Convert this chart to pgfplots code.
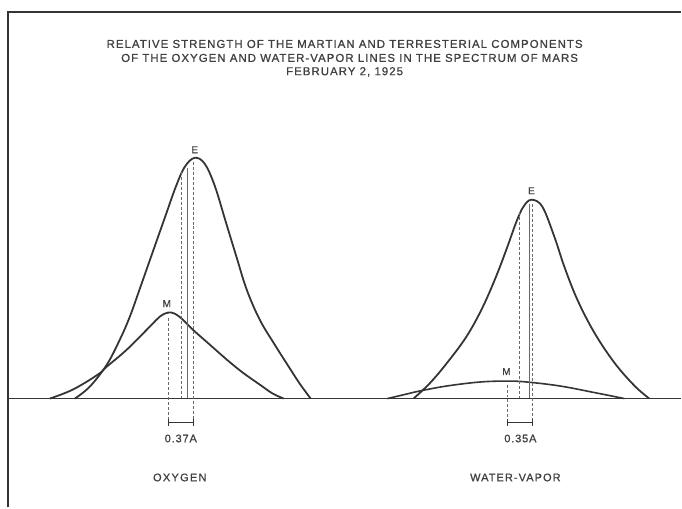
\documentclass[border=0pt]{standalone}
\usepackage{pgfplots}
\pgfplotsset{compat=1.18}
\usepackage{fontspec}
\setmainfont{Liberation Sans}
\newfontfamily\letterfont{Liberation Sans}[FakeBold=0.9]
\definecolor{ink}{HTML}{353535}
\definecolor{txt}{HTML}{404040}
\definecolor{dashgray}{HTML}{6A6A6A}
\begin{document}
\begin{tikzpicture}
\begin{axis}[
  width=682bp, height=508bp, scale only axis,
  xmin=0, xmax=682, ymin=0, ymax=508, y dir=reverse,
  hide axis, clip=false,
]
% frame and baseline
\addplot[ink, line width=1.6bp] coordinates {(8,508) (8,12) (682,12)};
\addplot[ink, line width=1.6bp] coordinates {(8,399) (682,399)};
% oxygen
\addplot[ink, line width=1.8bp, smooth, tension=0.6] coordinates {
(75,399) (90,387) (107,365) (120,340) (130,317) (140,289) (153,252) (165,218) (176,187) (185,167) (195,158)
(205,164) (215,186) (226,222) (237,258) (247,290) (260,320) (275,345) (289,367) (300,384) (311,399)};
\addplot[ink, line width=1.8bp, smooth, tension=0.6] coordinates {
(50,399) (73,390) (98,375) (107,367) (127,350) (150,327) (160,317) (168,313) (175,314) (183,320) (193,330)
(210,345) (227,360) (243,373) (260,385) (273,394) (284,399)};
% water vapor
\addplot[ink, line width=1.8bp, smooth, tension=0.6] coordinates {
(414,399) (430,384) (447,364) (467,337) (483,308) (497,276) (508,247) (517,222) (524,207) (532,200)
(543,207) (555,237) (565,267) (578,300) (595,333) (615,363) (635,386) (650,399)};
\addplot[ink, line width=1.6bp, smooth, tension=0.6] coordinates {
(388,399) (405,395) (420,391.5) (447,386.5) (480,382.5) (508,381.5) (528,382.5) (561,386.5) (595,393) (625,399)};
% construction lines, oxygen
\addplot[dashgray, densely dashed, line width=0.6bp] coordinates {(168,318) (168,426)};
\addplot[dashgray, densely dashed, line width=0.6bp] coordinates {(181.5,172) (181.5,398)};
\addplot[dashgray, line width=0.5bp] coordinates {(187,168) (187,398)};
\addplot[dashgray, densely dashed, line width=0.6bp] coordinates {(193.5,162) (193.5,426)};
\addplot[ink, line width=0.7bp, |-|] coordinates {(168,423) (193.5,423)};
% construction lines, water vapor
\addplot[dashgray, densely dashed, line width=0.6bp] coordinates {(508,385) (508,426)};
\addplot[dashgray, densely dashed, line width=0.6bp] coordinates {(520,212) (520,398)};
\addplot[dashgray, line width=0.5bp] coordinates {(530,204) (530,398)};
\addplot[dashgray, densely dashed, line width=0.6bp] coordinates {(533,204) (533,426)};
\addplot[ink, line width=0.7bp, |-|] coordinates {(508,423) (533,423)};
% texts
\node[txt, font=\letterfont\fontsize{10}{12}\selectfont] at (axis cs:195,150) {E};
\node[txt, font=\letterfont\fontsize{10}{12}\selectfont] at (axis cs:532,191) {E};
\node[txt, font=\letterfont\fontsize{10}{12}\selectfont] at (axis cs:167,304) {M};
\node[txt, font=\letterfont\fontsize{10}{12}\selectfont] at (axis cs:507,372) {M};
\node[txt, font=\letterfont\addfontfeature{LetterSpace=8}\fontsize{11}{13}\selectfont] at (axis cs:181,439) {0.37A};
\node[txt, font=\letterfont\addfontfeature{LetterSpace=8}\fontsize{11}{13}\selectfont] at (axis cs:521,439) {0.35A};
\node[txt, font=\letterfont\addfontfeature{LetterSpace=12}\fontsize{11}{13}\selectfont] at (axis cs:180,478) {OXYGEN};
\node[txt, font=\letterfont\addfontfeature{LetterSpace=10}\fontsize{11}{13}\selectfont] at (axis cs:516,478) {WATER-VAPOR};
\node[txt, font=\letterfont\addfontfeature{LetterSpace=9}\fontsize{11.5}{13}\selectfont] at (axis cs:345,44) {RELATIVE STRENGTH OF THE MARTIAN AND TERRESTERIAL COMPONENTS};
\node[txt, font=\letterfont\addfontfeature{LetterSpace=9}\fontsize{11.5}{13}\selectfont] at (axis cs:350,58) {OF THE OXYGEN AND WATER-VAPOR LINES IN THE SPECTRUM OF MARS};
\node[txt, font=\letterfont\addfontfeature{LetterSpace=9}\fontsize{11.5}{13}\selectfont] at (axis cs:345,72) {FEBRUARY 2, 1925};
\path (axis cs:0,0) rectangle (axis cs:682,508);
\end{axis}
\end{tikzpicture}
\end{document}
